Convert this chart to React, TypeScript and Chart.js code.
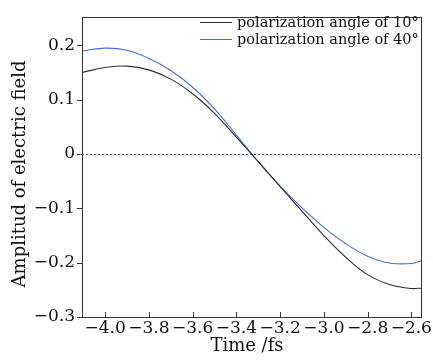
import React, { useEffect, useRef } from "react";
import { Chart, registerables } from "chart.js";

Chart.register(...registerables);

const timeFs = [-4.11, -4.0, -3.9, -3.8, -3.7, -3.6, -3.5, -3.4, -3.3, -3.2, -3.1, -3.0, -2.9, -2.8, -2.7, -2.6, -2.55];
const angle10 = [0.1497, 0.1595, 0.162, 0.155, 0.138, 0.111, 0.075, 0.031, -0.014, -0.06, -0.105, -0.15, -0.19, -0.222, -0.24, -0.2475, -0.2465];
const angle40 = [0.1898, 0.195, 0.191, 0.176, 0.154, 0.123, 0.083, 0.035, -0.014, -0.059, -0.099, -0.135, -0.165, -0.188, -0.2005, -0.2015, -0.196];
const xTickValues = [-4.0, -3.8, -3.6, -3.4, -3.2, -3.0, -2.8, -2.6];
const yTickValues = [0.2, 0.1, 0, -0.1, -0.2, -0.3];
const seriesLabels = ["polarization angle of 10°", "polarization angle of 40°"];
const seriesColors = ["#2e2e2e", "#4a6cc8"];
const xTitle = "Time /fs";
const yTitle = "Amplitud of electric field";

const FONT = "'DejaVu Serif', serif";
const AXIS = "#333333";

const fmt = (v: number, zeroPlain: boolean) => {
  if (zeroPlain && Math.abs(v) < 1e-9) return "0";
  const s = Math.abs(v).toFixed(1);
  return v < 0 ? "\u2212" + s : s;
};

const decorPlugin = {
  id: "decor",
  beforeDatasetsDraw(chart: any) {
    const { ctx, chartArea, scales } = chart;
    const y0 = scales.y.getPixelForValue(0);
    ctx.save();
    ctx.strokeStyle = "#555555";
    ctx.lineWidth = 1;
    ctx.setLineDash([2, 2]);
    ctx.beginPath();
    ctx.moveTo(chartArea.left, Math.round(y0) + 0.5);
    ctx.lineTo(chartArea.right, Math.round(y0) + 0.5);
    ctx.stroke();
    ctx.restore();
  },
  afterDraw(chart: any) {
    const { ctx, chartArea, scales } = chart;
    const { left, right, top, bottom } = chartArea;
    ctx.save();
    ctx.strokeStyle = AXIS;
    ctx.lineWidth = 1;
    ctx.strokeRect(Math.round(left) + 0.5, Math.round(top) + 0.5, Math.round(right - left) - 1, Math.round(bottom - top));
    ctx.beginPath();
    xTickValues.forEach((v) => {
      const px = Math.round(scales.x.getPixelForValue(v)) + 0.5;
      ctx.moveTo(px, bottom);
      ctx.lineTo(px, bottom - 5);
    });
    yTickValues.forEach((v) => {
      const py = Math.round(scales.y.getPixelForValue(v)) + 0.5;
      ctx.moveTo(left, py);
      ctx.lineTo(left - 5, py);
    });
    ctx.stroke();

    ctx.fillStyle = "#111111";
    ctx.font = `18px ${FONT}`;
    ctx.textAlign = "center";
    ctx.textBaseline = "middle";
    ctx.fillText(xTitle, 247, 346);
    ctx.save();
    ctx.translate(20, 174);
    ctx.rotate(-Math.PI / 2);
    ctx.fillText(yTitle, 0, 0);
    ctx.restore();

    ctx.font = `14.5px ${FONT}`;
    ctx.textAlign = "left";
    const rows = [22, 39];
    chart.data.datasets.forEach((ds: any, i: number) => {
      if (i > 1) return;
      ctx.strokeStyle = ds.borderColor;
      ctx.lineWidth = 1;
      ctx.beginPath();
      ctx.moveTo(200, rows[i] + 0.5);
      ctx.lineTo(232, rows[i] + 0.5);
      ctx.stroke();
      ctx.fillStyle = "#111111";
      ctx.fillText(ds.label, 237, rows[i] + 1);
    });
    ctx.restore();
  },
};

export default function App() {
  const ref = useRef<HTMLCanvasElement | null>(null);
  useEffect(() => {
    if (!ref.current) return;
    const chart = new Chart(ref.current, {
      type: "line",
      data: {
        datasets: [
          {
            label: seriesLabels[0],
            data: timeFs.map((t, i) => ({ x: t, y: angle10[i] })),
            borderColor: seriesColors[0],
            borderWidth: 1.1,
            pointRadius: 0,
            tension: 0.4,
            fill: false,
          },
          {
            label: seriesLabels[1],
            data: timeFs.map((t, i) => ({ x: t, y: angle40[i] })),
            borderColor: seriesColors[1],
            borderWidth: 1.1,
            pointRadius: 0,
            tension: 0.4,
            fill: false,
          },
        ],
      },
      options: {
        animation: false,
        responsive: false,
        layout: { padding: { top: 8, right: 2, left: 0, bottom: 0 } },
        plugins: { legend: { display: false }, tooltip: { enabled: false } },
        scales: {
          x: {
            type: "linear",
            min: -4.106,
            max: -2.551,
            grid: { display: false, drawTicks: false },
            border: { display: false },
            afterBuildTicks: (s: any) => {
              s.ticks = xTickValues.map((v) => ({ value: v }));
            },
            afterFit: (s: any) => {
              s.height = 44;
            },
            ticks: {
              autoSkip: false,
              maxRotation: 0,
              padding: 1,
              color: "#111111",
              font: { family: FONT, size: 17 },
              callback: (v: any) => fmt(Number(v), false),
            },
          },
          y: {
            type: "linear",
            min: -0.3,
            max: 0.252,
            grid: { display: false, drawTicks: false },
            border: { display: false },
            afterBuildTicks: (s: any) => {
              s.ticks = yTickValues.map((v) => ({ value: v }));
            },
            afterFit: (s: any) => {
              s.width = 82;
            },
            ticks: {
              autoSkip: false,
              padding: 7,
              color: "#111111",
              font: { family: FONT, size: 17 },
              callback: (v: any) => fmt(Number(v), true),
            },
          },
        },
      },
      plugins: [decorPlugin],
    });
    return () => chart.destroy();
  }, []);
  return (
    <div style={{ position: "fixed", left: 0, top: 0, width: 433, height: 361, background: "#fff" }}>
      <canvas ref={ref} width={433} height={361} style={{ display: "block" }} />
    </div>
  );
}
